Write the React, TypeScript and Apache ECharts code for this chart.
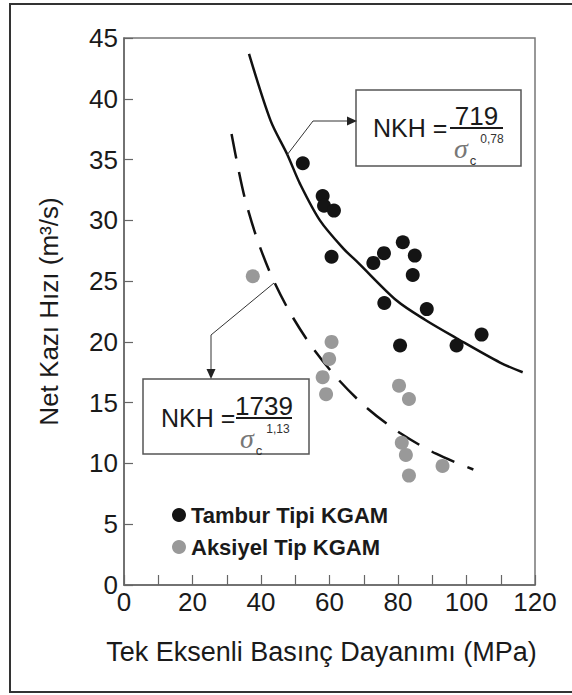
import React, { useEffect, useRef } from "react";
import * as echarts from "echarts";

const FONT = "'Liberation Sans', Arial, Helvetica, sans-serif";

const tamburName = "Tambur Tipi KGAM";
const aksiyelName = "Aksiyel Tip KGAM";

// Tambur Tipi KGAM: [UCS (MPa), net cutting rate (m3/s)]
const tamburPoints: number[][] = [
  [52.2, 34.7], [58.0, 32.0], [58.4, 31.2], [61.3, 30.8], [60.6, 27.0],
  [72.8, 26.5], [75.9, 27.3], [81.4, 28.2], [84.9, 27.1], [84.3, 25.5],
  [76.0, 23.2], [88.4, 22.7], [80.6, 19.7], [97.1, 19.7], [104.4, 20.6],
];

// Aksiyel Tip KGAM
const aksiyelPoints: number[][] = [
  [37.6, 25.4], [60.6, 20.0], [59.9, 18.6], [58.0, 17.1], [59.0, 15.7],
  [80.3, 16.4], [83.2, 15.3], [81.1, 11.7], [82.3, 10.7], [93.0, 9.8],
  [83.2, 9.0],
];

// Fitted curves
const tamburCurve: number[][] = [
  [36.5, 43.7], [42.8, 38.2], [47.7, 35.4], [51.4, 33.0], [57.2, 30.0],
  [64.0, 27.7], [68.4, 26.5], [79.6, 23.4], [88.0, 21.8], [97.1, 20.3],
  [109.8, 18.3], [116.4, 17.5],
];
const aksiyelCurve: number[][] = [
  [31.4, 37.1], [33.4, 34.2], [35.3, 31.8], [38.7, 28.6], [43.1, 25.4],
  [48.5, 22.4], [55.1, 19.5], [62.6, 16.9], [71.2, 14.5], [80.6, 12.5],
  [91.1, 10.8], [102.0, 9.5],
];

const xTitle = "Tek Eksenli Basınç Dayanımı (MPa)";
const yTitle = "Net Kazı Hızı (m³/s)";

const eq1 = { num: "719", exp: "0,78" };
const eq2 = { num: "1739", exp: "1,13" };

function txt(x: number, y: number, text: string, size: number, opts: any = {}) {
  const align = opts.align || "center";
  return {
    type: "text",
    x,
    y,
    z: 100,
    style: {
      text,
      fontSize: size,
      fontFamily: opts.family || FONT,
      fontStyle: opts.italic ? "italic" : "normal",
      fontWeight: opts.bold ? "bold" : "normal",
      fill: opts.color || "#1a1a1a",
      align,
      textAlign: align,
      verticalAlign: "middle",
      textVerticalAlign: "middle",
    },
  };
}

function equation(bx: number, by: number, bw: number, bh: number, nkhX: number, fracX1: number, fracX2: number, lineY: number, e: { num: string; exp: string }) {
  const cx = (fracX1 + fracX2) / 2;
  return [
    {
      type: "rect",
      z: 99,
      shape: { x: bx, y: by, width: bw, height: bh },
      style: { fill: "#fff", stroke: "#555", lineWidth: 1.5 },
    },
    txt(nkhX, lineY, "NKH =", 25, { align: "left" }),
    txt(cx, lineY - 12, e.num, 26),
    {
      type: "line",
      z: 100,
      shape: { x1: fracX1, y1: lineY, x2: fracX2, y2: lineY },
      style: { stroke: "#1a1a1a", lineWidth: 2 },
    },
    txt(fracX1 + 11, lineY + 20, "σ", 28, { italic: true, family: "'Liberation Serif', 'Times New Roman', serif", color: "#777" }),
    txt(fracX1 + 23, lineY + 32, "c", 13, { color: "#333" }),
    txt(fracX1 + 42, lineY + 11, e.exp, 12, { color: "#333" }),
  ];
}

export default function App() {
  const ref = useRef<HTMLDivElement>(null);
  useEffect(() => {
    if (!ref.current) return;
    const chart = echarts.init(ref.current, undefined, { renderer: "svg" });
    chart.setOption({
      animation: false,
      backgroundColor: "#fff",
      grid: {
        left: 124,
        right: 37,
        top: 38,
        bottom: 110,
        show: true,
        borderColor: "#777",
        borderWidth: 1.5,
      },
      legend: {
        data: [tamburName, aksiyelName],
        orient: "vertical",
        left: 167,
        top: 498,
        itemWidth: 14,
        itemHeight: 14,
        itemGap: 8,
        icon: "circle",
        textStyle: { fontSize: 22, fontWeight: "bold", color: "#1a1a1a", fontFamily: FONT, lineHeight: 24 },
      },
      xAxis: {
        type: "value",
        min: 0,
        max: 120,
        interval: 20,
        name: xTitle,
        nameLocation: "middle",
        nameGap: 53,
        nameTextStyle: { fontSize: 27, color: "#1a1a1a", fontFamily: FONT, padding: [0, 16, 0, 0] },
        axisLine: { lineStyle: { color: "#666", width: 1.5 } },
        axisTick: { inside: true, length: 10, lineStyle: { color: "#666", width: 1.2 } },
        minorTick: { show: true, splitNumber: 2, length: 10, lineStyle: { color: "#666", width: 1.2 } },
        splitLine: { show: false },
        axisLabel: { fontSize: 26, color: "#1a1a1a", fontFamily: FONT, margin: 4 },
      },
      yAxis: {
        type: "value",
        min: 0,
        max: 45,
        interval: 5,
        name: yTitle,
        nameLocation: "middle",
        nameGap: 62,
        nameTextStyle: { fontSize: 26, color: "#1a1a1a", fontFamily: FONT },
        axisLine: { show: true, lineStyle: { color: "#666", width: 1.5 } },
        axisTick: { show: true, inside: true, length: 9, lineStyle: { color: "#666", width: 1.2 } },
        splitLine: { show: false },
        axisLabel: { fontSize: 26, color: "#1a1a1a", fontFamily: FONT, margin: 6 },
      },
      series: [
        {
          name: "Tambur eğrisi",
          type: "line",
          data: tamburCurve,
          smooth: 0.3,
          showSymbol: false,
          lineStyle: { color: "#111", width: 2.5 },
          z: 2,
        },
        {
          name: "Aksiyel eğrisi",
          type: "line",
          data: aksiyelCurve,
          smooth: 0.3,
          showSymbol: false,
          lineStyle: { color: "#111", width: 2.5, type: [25, 14] },
          z: 2,
        },
        {
          name: aksiyelName,
          type: "scatter",
          data: aksiyelPoints,
          symbolSize: 14,
          itemStyle: { color: "#999999", opacity: 1 },
          z: 3,
        },
        {
          name: tamburName,
          type: "scatter",
          data: tamburPoints,
          symbolSize: 14,
          itemStyle: { color: "#141414", opacity: 1 },
          z: 4,
        },
      ],
      graphic: [
        {
          type: "rect",
          z: 0,
          silent: true,
          shape: { x: 10, y: 4, width: 600, height: 688 },
          style: { fill: "none", stroke: "#333", lineWidth: 2 },
        },
        ...equation(356, 90, 165, 76, 373, 450, 503, 128, eq1),
        ...equation(143, 379, 166, 75, 161, 236, 292, 418, eq2),
        {
          type: "polyline",
          z: 100,
          shape: { points: [[287, 155], [313, 121], [349, 121]] },
          style: { stroke: "#333", lineWidth: 1, fill: "none" },
        },
        {
          type: "polygon",
          z: 100,
          shape: { points: [[357, 121], [347, 116.5], [347, 125.5]] },
          style: { fill: "#222" },
        },
        {
          type: "polyline",
          z: 100,
          shape: { points: [[274, 283], [211, 335], [211, 371]] },
          style: { stroke: "#333", lineWidth: 1, fill: "none" },
        },
        {
          type: "polygon",
          z: 100,
          shape: { points: [[211, 379], [206.5, 369], [215.5, 369]] },
          style: { fill: "#222" },
        },
      ],
    });
    return () => chart.dispose();
  }, []);
  return (
    <div
      ref={ref}
      style={{ position: "fixed", left: 0, top: 0, width: 572, height: 695, background: "#fff" }}
    />
  );
}
